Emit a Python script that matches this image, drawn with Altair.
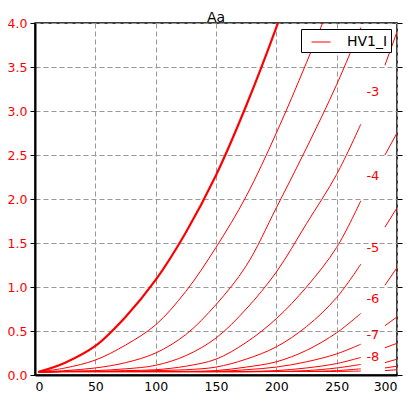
import altair as alt
import pandas as pd

# ---- data ----
V_LEFT = [3, 25, 50, 75, 100, 125, 150, 175, 200, 225, 250, 270]
V_RIGHT = [290, 300]

CURVES = ["0", "-1", "-2", "-3", "-4", "-5", "-6", "-7", "-8", "-9", "-10", "-11"]

I_G0_L = [0.035, 0.14, 0.33, 0.66, 1.08, 1.62, 2.27, 3.06, 3.95, 4.95, 6.0, 7.0]
I_G0_R = [8.0, 8.5]
I_G1_L = [0.035, 0.08, 0.17, 0.34, 0.57, 0.95, 1.45, 2.03, 2.75, 3.55, 4.4, 5.1]
I_G1_R = [5.9, 6.3]
I_G2_L = [0.035, 0.05, 0.08, 0.14, 0.25, 0.46, 0.80, 1.24, 1.90, 2.58, 3.30, 3.95]
I_G2_R = [4.65, 5.0]
I_G3_L = [0.035, 0.04, 0.05, 0.07, 0.11, 0.22, 0.42, 0.75, 1.17, 1.72, 2.28, 2.85]
I_G3_R = [3.52, 3.9]
I_G4_L = [0.035, 0.04, 0.04, 0.05, 0.06, 0.10, 0.18, 0.37, 0.64, 1.00, 1.45, 1.98]
I_G4_R = [2.5, 2.75]
I_G5_L = [0.035, 0.04, 0.04, 0.04, 0.05, 0.06, 0.09, 0.18, 0.32, 0.55, 0.88, 1.26]
I_G5_R = [1.68, 1.9]
I_G6_L = [0.035, 0.04, 0.04, 0.04, 0.04, 0.04, 0.05, 0.09, 0.15, 0.28, 0.48, 0.70]
I_G6_R = [1.02, 1.22]
I_G7_L = [0.035, 0.04, 0.04, 0.04, 0.04, 0.04, 0.04, 0.06, 0.09, 0.15, 0.24, 0.35]
I_G7_R = [0.56, 0.66]
I_G8_L = [0.035, 0.04, 0.04, 0.04, 0.04, 0.04, 0.04, 0.04, 0.05, 0.08, 0.13, 0.20]
I_G8_R = [0.31, 0.36]
I_G9_L = [0.035, 0.04, 0.04, 0.04, 0.04, 0.04, 0.04, 0.04, 0.04, 0.05, 0.08, 0.12]
I_G9_R = [0.14, 0.18]
I_G10_L = [0.035, 0.04, 0.04, 0.04, 0.04, 0.04, 0.04, 0.04, 0.04, 0.04, 0.05, 0.07]
I_G10_R = [0.08, 0.10]
I_G11_L = [0.035, 0.035, 0.035, 0.035, 0.035, 0.035, 0.035, 0.035, 0.04, 0.04, 0.04, 0.045]
I_G11_R = [0.05, 0.06]

LEFT = [I_G0_L, I_G1_L, I_G2_L, I_G3_L, I_G4_L, I_G5_L, I_G6_L, I_G7_L, I_G8_L, I_G9_L, I_G10_L, I_G11_L]
RIGHT = [I_G0_R, I_G1_R, I_G2_R, I_G3_R, I_G4_R, I_G5_R, I_G6_R, I_G7_R, I_G8_R, I_G9_R, I_G10_R, I_G11_R]

LABEL_TEXT = ["-3", "-4", "-5", "-6", "-7", "-8"]
LABEL_V = [280, 280, 280, 280, 280, 280]
LABEL_I = [3.22, 2.26, 1.44, 0.86, 0.45, 0.20]

X_TICKS = [0, 50, 100, 150, 200, 250, 300]
Y_TICKS = [0.0, 0.5, 1.0, 1.5, 2.0, 2.5, 3.0, 3.5, 4.0]

SERIES = "HV1_I"
RED = "#ff0000"

rows = []
for name, left, right in zip(CURVES, LEFT, RIGHT):
    for v, i in zip(V_LEFT, left):
        rows.append({"V": v, "I": i, "curve": name, "seg": name + "_L", "series": SERIES})
    for v, i in zip(V_RIGHT, right):
        rows.append({"V": v, "I": i, "curve": name, "seg": name + "_R", "series": SERIES})
df = pd.DataFrame(rows)

lab = pd.DataFrame({"V": LABEL_V, "I": LABEL_I, "label": LABEL_TEXT})

xscale = alt.Scale(domain=[0, 300], nice=False, zero=False)
yscale = alt.Scale(domain=[0, 4], nice=False, zero=False)


def x_axis():
    return alt.Axis(values=X_TICKS, title=None, grid=True, labelColor="black",
                    ticks=False, domainWidth=2, labelPadding=5)


lines = alt.Chart(df).mark_line(clip=True, interpolate="catmull-rom").encode(
    x=alt.X("V:Q", scale=xscale, axis=x_axis()),
    y=alt.Y("I:Q", scale=yscale,
            axis=alt.Axis(values=Y_TICKS, format=".1f", title=None, grid=True,
                          labelColor=RED, tickSize=5, domainWidth=2, labelPadding=3)),
    detail="seg:N",
    color=alt.Color("series:N", scale=alt.Scale(domain=[SERIES], range=[RED]),
                    legend=alt.Legend(title=None, orient="top-right", offset=6,
                                      padding=3, fillColor="white", strokeColor="black",
                                      symbolType="stroke", symbolSize=361,
                                      symbolStrokeWidth=1, symbolOffset=7,
                                      labelFontSize=14, labelOffset=16,
                                      labelFont="DejaVu Sans", labelColor="black",
                                      cornerRadius=0)),
    strokeWidth=alt.condition(alt.datum.curve == "0", alt.value(2.2), alt.value(1)),
)

labels = alt.Chart(lab).mark_text(color=RED, fontSize=13, font="DejaVu Sans").encode(
    x=alt.X("V:Q", scale=xscale, axis=x_axis()),
    y=alt.Y("I:Q", scale=yscale,
            axis=alt.Axis(values=Y_TICKS, orient="right", labels=False, title=None,
                          grid=False, tickSize=5, domain=False)),
    text="label:N",
)

chart = alt.layer(lines, labels).resolve_axis(y="independent").properties(
    width=362, height=352,
    title=alt.TitleParams("Aa", fontSize=14, fontWeight="normal", font="DejaVu Sans",
                          color="black", frame="group", offset=-8),
    autosize=alt.AutoSizeParams(type="none"),
    padding={"left": 27, "top": 15, "right": 10, "bottom": 22},
).configure_view(stroke="black", strokeWidth=1.5).configure_axis(
    domainColor="black", tickColor="black", gridColor="#999999", gridDash=[5, 3],
    gridWidth=1, labelFont="DejaVu Sans", labelFontSize=12.5,
)

chart.save("out.html", embed_options={"renderer": "svg", "actions": False})
